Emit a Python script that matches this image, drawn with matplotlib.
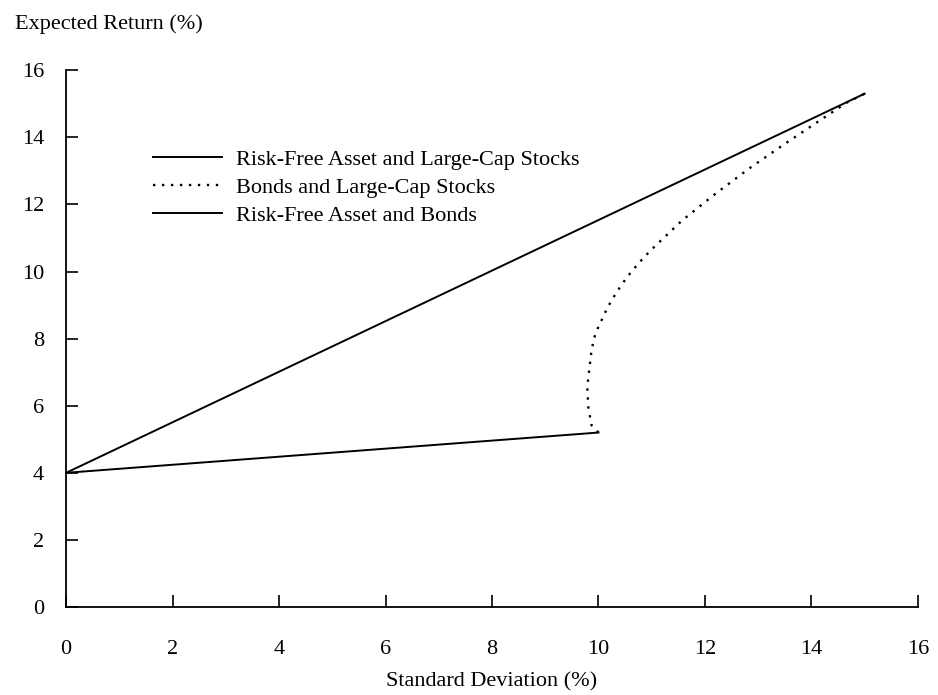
import matplotlib.pyplot as plt

plt.rcParams['font.family'] = ['Liberation Serif', 'DejaVu Serif']

# risk-free asset, bonds, large-cap stocks (std dev %, expected return %)
rf_sd, rf_ret = 0.0, 4.0
bond_sd, bond_ret = 10.0, 5.2
stock_sd, stock_ret = 15.0, 15.3

# bonds / large-cap stocks frontier
curve_sd = [10.0, 9.87, 9.81, 9.79, 9.83, 9.87, 9.91, 9.95, 10.03, 10.17, 10.34,
            10.53, 10.75, 10.98, 11.57, 12.2, 12.83, 13.45, 14.09, 14.66, 15.0]
curve_ret = [5.2, 5.42, 5.95, 6.55, 7.11, 7.65, 7.95, 8.18, 8.45, 8.93, 9.38,
             9.82, 10.24, 10.63, 11.52, 12.32, 13.07, 13.75, 14.43, 15.03, 15.3]

labels = ['Risk-Free Asset and Large-Cap Stocks',
          'Bonds and Large-Cap Stocks',
          'Risk-Free Asset and Bonds']
ticks = [0, 2, 4, 6, 8, 10, 12, 14, 16]

fs = 16

fig = plt.figure(figsize=(9.38, 6.95), dpi=100)
ax = fig.add_axes([0.0705, 0.1266, 0.908, 0.7724])

ax.plot([rf_sd, stock_sd], [rf_ret, stock_ret], color='black', lw=1.4, label=labels[0])
ax.plot(curve_sd, curve_ret, color='black', lw=1.7, linestyle=(0, (1, 2.8)), label=labels[1])
ax.plot([rf_sd, bond_sd], [rf_ret, bond_ret], color='black', lw=1.4, label=labels[2])

ax.set_xlim(0, 16)
ax.set_ylim(0, 16)
ax.set_xticks(ticks)
ax.set_yticks(ticks)
for s in ['top', 'right']:
    ax.spines[s].set_visible(False)
for s in ['left', 'bottom']:
    ax.spines[s].set_linewidth(1.3)
ax.tick_params(direction='in', length=8.5, width=1.2, labelsize=fs)
ax.tick_params(axis='x', pad=24)
ax.tick_params(axis='y', pad=16)

ax.set_xlabel('Standard Deviation (%)', fontsize=fs, labelpad=9)
fig.text(0.016, 0.98, 'Expected Return (%)', fontsize=fs, va='top', ha='left')

ax.legend(loc='upper left', bbox_to_anchor=(0.079, 0.89), frameon=False,
          fontsize=fs, handlelength=3.1, handletextpad=0.6, labelspacing=0.33)

fig.savefig('out.png', dpi=100)
